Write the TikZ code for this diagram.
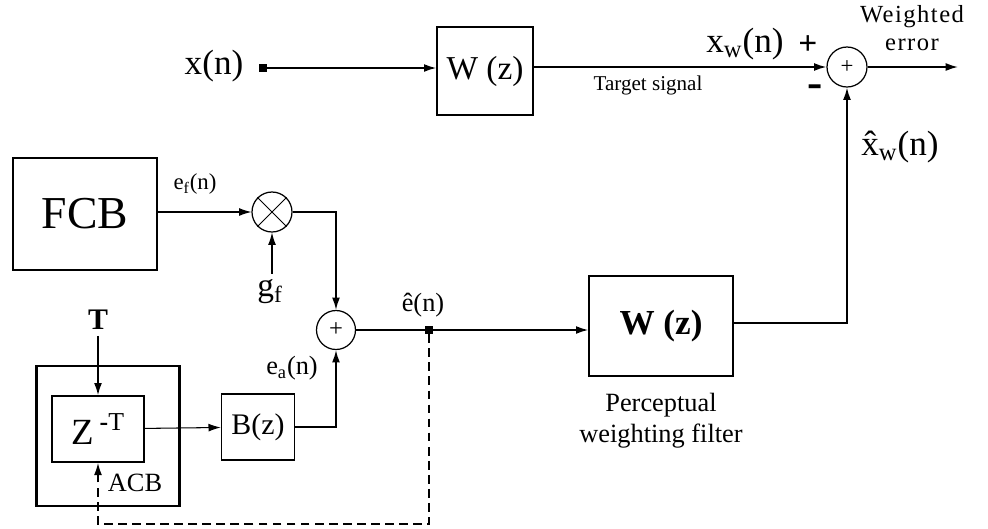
\documentclass[tikz,border=0pt]{standalone}
\usepackage{fontspec}
\setmainfont{Liberation Serif}
\usetikzlibrary{positioning,arrows.meta}

\begin{document}
\begin{tikzpicture}[
    x=0.02cm, y=-0.02cm,
    every node/.style={font=\fontsize{16}{18}\selectfont},
    block/.style={draw, line width=0.8pt, inner sep=0pt},
    sumnode/.style={draw, circle, line width=0.7pt, inner sep=0pt},
    term/.style={fill, minimum size=4.5pt, inner sep=0pt},
    arrow/.style={-{Latex[length=7pt,width=4.5pt]}, line width=0.9pt},
    big/.style={font=\fontsize{20}{22}\selectfont},
    mid/.style={font=\fontsize{15}{17}\selectfont},
  ]
  \useasboundingbox (0,0) rectangle (988,528);

  % top branch
  \node[big] (xin) at (214,66) {x(n)};
  \node[term] (xterm) at (263,68) {};
  \node[block, minimum width=1.92cm, minimum height=1.76cm, font=\fontsize{19}{21}\selectfont] (wtop) at (485,71) {W (z)};
  \node[sumnode, minimum size=0.8cm, font=\fontsize{13}{13}\selectfont] (err) at (847,67) {+};
  \coordinate (eout) at (958,67);

  \draw[arrow] (xterm) -- (wtop.west |- xterm);
  \draw[arrow] (wtop.east |- err) -- (err);
  \draw[arrow] (err) -- (eout);

  \node[big] (xw) at (745,44) {x\textsubscript{w}(n)};
  \node[font=\fontsize{19}{19}\selectfont\bfseries] (plus) at (808,45) {+};
  \node[font=\fontsize{26}{26}\selectfont\bfseries] (minus) at (815,91) {-};
  \node[font=\fontsize{12}{14}\selectfont] (target) at (648,85) {Target signal};
  \node[font=\fontsize{14}{16}\selectfont\addfontfeature{LetterSpace=6}, align=center] (werr) at (912,28) {Weighted\\error};
  \node[big] (xhat) at (900,147) {\^{x}\textsubscript{w}(n)};

  % fixed codebook
  \node[block, minimum width=2.88cm, minimum height=2.24cm, font=\fontsize{26}{28}\selectfont] (fcb) at (85,214) {FCB};
  \node[sumnode, minimum size=0.8cm] (mult) at (272,212) {};
  \draw[line width=0.5pt] (mult.north west) -- (mult.south east) (mult.north east) -- (mult.south west);
  \node[font=\fontsize{13}{15}\selectfont] (ef) at (195,184) {e\textsubscript{f}(n)};
  \node[font=\fontsize{19}{21}\selectfont] (gf) at (270,292) {g\textsubscript{f}};
  \draw[arrow, line width=0.6pt] (fcb.east |- mult) -- (mult);
  \draw[arrow, line width=0.6pt] (gf.north -| mult) -- (mult);

  % excitation sum
  \node[sumnode, minimum size=0.78cm, font=\fontsize{14}{14}\selectfont] (esum) at (336,330) {+};
  \draw[arrow] (mult) -| (esum);
  \node[term] (eterm) at (429,330) {};
  \node[mid] (ehat) at (423,305) {\^{e}(n)};

  % perceptual weighting filter
  \node[block, minimum width=2.88cm, minimum height=2.0cm, font=\fontsize{20}{22}\selectfont\bfseries] (wbot) at (661,326) {W (z)};
  \node[font=\fontsize{15}{18}\selectfont, align=center, below=0.2cm of wbot] (pwf) {Perceptual\\weighting filter};
  \draw[arrow] (esum) -- (wbot.west |- esum);
  \draw[arrow] (wbot.east |- 0,323) -| (err);

  % adaptive codebook
  \node[block, line width=1.6pt, minimum width=2.86cm, minimum height=2.8cm] (acb) at (108,436) {};
  \node[block, minimum width=1.84cm, minimum height=1.32cm, font=\fontsize{21}{23}\selectfont] (zbox) at (98,429) {Z\,\textsuperscript{\textbf{-}T}};
  \node[mid] (acblbl) at (135,483) {ACB};
  \node[font=\fontsize{17}{19}\selectfont\bfseries] (tlag) at (98,320) {T};
  \node[block, minimum width=1.46cm, minimum height=1.32cm, font=\fontsize{17}{19}\selectfont] (bz) at (258,427) {B(z)};
  \node[mid] (ea) at (292,368) {e\textsubscript{a}(n)};

  \draw[arrow] (tlag) -- (zbox);
  \draw[arrow, line width=0.6pt] (zbox) -- (bz);
  \draw[arrow] (bz.east) -| (esum);

  % feedback
  \coordinate (fbk) at (429,524);
  \draw[arrow, line width=1pt, dash pattern=on 5pt off 3pt] (eterm) -- (fbk) -| (zbox.south);
\end{tikzpicture}
\end{document}
